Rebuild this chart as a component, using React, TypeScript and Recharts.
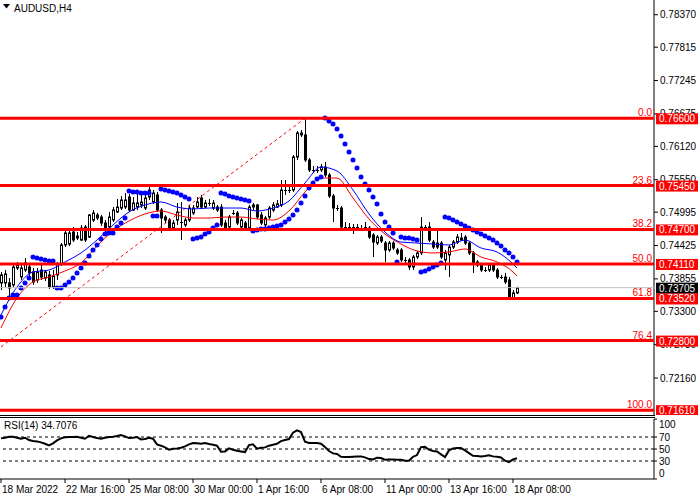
import React from "react";
import { Bar, ComposedChart, Line, ReferenceLine, Scatter, XAxis, YAxis } from "recharts";

// AUDUSD H4 candles, 18 Mar 2022 00:00 .. 18 Apr 2022 12:00
const opens = [
  0.73785, 0.73785, 0.73785, 0.73751, 0.74041, 0.73887, 0.74007, 0.74058, 0.73973, 0.73836,
  0.74007, 0.7387, 0.73922, 0.73716, 0.73922, 0.7411, 0.74434, 0.74451, 0.74656, 0.74587,
  0.74519, 0.74741, 0.7457, 0.74861, 0.74947, 0.74912, 0.7481, 0.74741, 0.74861, 0.74998,
  0.75066, 0.75083, 0.75254, 0.75032, 0.75083, 0.75118, 0.75066, 0.75254, 0.75169, 0.75289,
  0.75032, 0.74912, 0.74861, 0.74724, 0.74861, 0.74827, 0.74776, 0.74861, 0.74981, 0.75083,
  0.75237, 0.75083, 0.75152, 0.75066, 0.75083, 0.75083, 0.7481, 0.74741, 0.74981, 0.74981,
  0.74741, 0.7481, 0.74724, 0.75083, 0.75118, 0.74947, 0.74776, 0.74912, 0.75032, 0.75083,
  0.75118, 0.75374, 0.75374, 0.75374, 0.75938, 0.76349, 0.76315, 0.75887, 0.75716, 0.75716,
  0.75716, 0.75767, 0.75631, 0.75271, 0.75066, 0.75066, 0.74741, 0.74741, 0.74741, 0.74724,
  0.74724, 0.74741, 0.74724, 0.74604, 0.74468, 0.7457, 0.74468, 0.74349, 0.74468, 0.74349,
  0.74349, 0.74178, 0.74178, 0.74058, 0.74229, 0.74298, 0.74741, 0.74741, 0.74485, 0.74468,
  0.74468, 0.74178, 0.74264, 0.74399, 0.74485, 0.74519, 0.7457, 0.74468, 0.74298, 0.74144,
  0.74093, 0.74007, 0.74007, 0.74093, 0.74007, 0.73887, 0.73887, 0.73836, 0.7353, 0.73614,
];
const highs = [
  0.73973, 0.74007, 0.7387, 0.7411, 0.74144, 0.74093, 0.74212, 0.74127, 0.74041, 0.74041,
  0.74093, 0.74007, 0.7399, 0.74007, 0.74144, 0.74468, 0.74673, 0.74707, 0.74741, 0.74656,
  0.74776, 0.74776, 0.74964, 0.75032, 0.74981, 0.74947, 0.74861, 0.74998, 0.75083, 0.7522,
  0.75271, 0.75323, 0.75306, 0.75254, 0.75323, 0.75289, 0.75289, 0.75425, 0.75374, 0.7534,
  0.75066, 0.74947, 0.74895, 0.74861, 0.75152, 0.75169, 0.74895, 0.75118, 0.75118, 0.75254,
  0.75289, 0.75203, 0.7522, 0.75203, 0.75118, 0.75135, 0.74861, 0.74947, 0.75032, 0.75015,
  0.74895, 0.74844, 0.75118, 0.75152, 0.75135, 0.74998, 0.74929, 0.751, 0.75169, 0.75203,
  0.75545, 0.75545, 0.75425, 0.75972, 0.76383, 0.764, 0.766, 0.75921, 0.75784, 0.75784,
  0.75819, 0.75853, 0.75665, 0.75306, 0.75118, 0.751, 0.74827, 0.7481, 0.74793, 0.74793,
  0.74776, 0.74827, 0.74758, 0.74639, 0.74604, 0.74604, 0.74502, 0.74502, 0.74502, 0.74383,
  0.74383, 0.74229, 0.74212, 0.74264, 0.74332, 0.74912, 0.74776, 0.74827, 0.74519, 0.74724,
  0.74502, 0.74349, 0.74434, 0.74519, 0.74622, 0.74639, 0.74604, 0.74502, 0.74332, 0.74178,
  0.74127, 0.74058, 0.74127, 0.74127, 0.74041, 0.73922, 0.73956, 0.73887, 0.73665, 0.7372,
];
const lows = [
  0.73665, 0.73716, 0.73528, 0.73716, 0.74007, 0.73836, 0.73973, 0.73904, 0.73751, 0.73785,
  0.73836, 0.73819, 0.73682, 0.73682, 0.73836, 0.74075, 0.74399, 0.74416, 0.74485, 0.74519,
  0.74502, 0.74485, 0.74553, 0.74827, 0.74861, 0.74758, 0.74656, 0.74707, 0.74827, 0.74981,
  0.75032, 0.75049, 0.74998, 0.75015, 0.75032, 0.75066, 0.75032, 0.75203, 0.75135, 0.74998,
  0.74639, 0.7481, 0.7469, 0.7469, 0.74776, 0.74519, 0.74741, 0.74827, 0.74947, 0.75066,
  0.75049, 0.75066, 0.751, 0.75032, 0.74998, 0.74741, 0.7469, 0.74707, 0.74947, 0.74776,
  0.74724, 0.74673, 0.7469, 0.75032, 0.74878, 0.74776, 0.74741, 0.74878, 0.74998, 0.75066,
  0.75083, 0.75289, 0.75323, 0.7534, 0.75887, 0.7628, 0.75853, 0.75682, 0.75665, 0.75665,
  0.75682, 0.75596, 0.75237, 0.74827, 0.75015, 0.74707, 0.7469, 0.74707, 0.74622, 0.7469,
  0.74673, 0.74707, 0.74536, 0.74229, 0.74434, 0.74468, 0.74144, 0.74315, 0.74349, 0.74264,
  0.74144, 0.74127, 0.74007, 0.74007, 0.74195, 0.74264, 0.7469, 0.74485, 0.74366, 0.74366,
  0.74195, 0.74007, 0.73887, 0.74366, 0.74451, 0.74502, 0.74434, 0.74264, 0.73956, 0.74058,
  0.73973, 0.73973, 0.73973, 0.73973, 0.73853, 0.73853, 0.73768, 0.7352, 0.7352, 0.73597,
];
const closes = [
  0.73922, 0.73939, 0.73699, 0.74058, 0.74093, 0.74041, 0.74127, 0.73956, 0.73802, 0.73973,
  0.73887, 0.73973, 0.73716, 0.73904, 0.7411, 0.74434, 0.74639, 0.74639, 0.74519, 0.74553,
  0.74724, 0.74519, 0.74947, 0.74981, 0.74895, 0.7481, 0.7469, 0.74912, 0.75032, 0.75083,
  0.75203, 0.75203, 0.75032, 0.75152, 0.75152, 0.75169, 0.75237, 0.75374, 0.75323, 0.75032,
  0.74895, 0.74861, 0.74724, 0.7481, 0.74998, 0.7481, 0.74861, 0.75066, 0.75066, 0.75169,
  0.75083, 0.75152, 0.7515, 0.75152, 0.75032, 0.74776, 0.74724, 0.74912, 0.74978, 0.7481,
  0.74861, 0.74724, 0.75083, 0.75118, 0.74912, 0.7481, 0.74895, 0.75066, 0.75118, 0.75135,
  0.75374, 0.7537, 0.75357, 0.75938, 0.76349, 0.76315, 0.75887, 0.75716, 0.75712, 0.7572,
  0.75767, 0.75631, 0.75271, 0.75066, 0.75049, 0.74741, 0.74738, 0.74745, 0.74724, 0.74741,
  0.74707, 0.74738, 0.7457, 0.74485, 0.7457, 0.74502, 0.74349, 0.74468, 0.74383, 0.74298,
  0.74178, 0.74175, 0.74058, 0.74229, 0.74298, 0.74741, 0.74724, 0.74519, 0.74399, 0.74399,
  0.74229, 0.74298, 0.74399, 0.74485, 0.7457, 0.74553, 0.74468, 0.74298, 0.74127, 0.74093,
  0.74007, 0.74003, 0.74093, 0.74007, 0.73887, 0.73884, 0.73802, 0.7353, 0.73614, 0.73705,
];

// Parabolic SAR, one dot per bar
const sar = [
  0.73203, 0.73374, 0.73528, 0.73579, 0.73579, 0.73699, 0.73785, 0.7387, 0.74229, 0.74212,
  0.74195, 0.74178, 0.74161, 0.74161, 0.73699, 0.73699, 0.73751, 0.73802, 0.7387, 0.73956,
  0.74041, 0.74127, 0.74246, 0.74349, 0.74434, 0.74536, 0.74622, 0.74639, 0.74639, 0.74741,
  0.7481, 0.74895, 0.75357, 0.7534, 0.7534, 0.75323, 0.75323, 0.75323, 0.74929, 0.74929,
  0.75391, 0.75374, 0.75357, 0.7534, 0.75323, 0.75289, 0.75254, 0.7522, 0.74536, 0.74553,
  0.7457, 0.74622, 0.74656, 0.74724, 0.74776, 0.75323, 0.75306, 0.75271, 0.75254, 0.75237,
  0.7522, 0.75203, 0.75186, 0.74673, 0.7469, 0.74707, 0.74707, 0.74724, 0.74741, 0.74758,
  0.74776, 0.74827, 0.74878, 0.74947, 0.75032, 0.75152, 0.75271, 0.75408, 0.75494, 0.75562,
  0.75596, 0.76605, 0.76554, 0.76503, 0.76417, 0.76298, 0.76161, 0.76024, 0.75887, 0.7575,
  0.75596, 0.75477, 0.75374, 0.75254, 0.75135, 0.74964, 0.74827, 0.74741, 0.74639, 0.74144,
  0.7457, 0.74553, 0.74553, 0.74536, 0.74519, 0.73973, 0.7399, 0.74024, 0.74058, 0.74093,
  0.74127, 0.74912, 0.74895, 0.74861, 0.74827, 0.74793, 0.74758, 0.74724, 0.7469, 0.74656,
  0.74622, 0.74588, 0.74553, 0.74519, 0.74468, 0.74416, 0.74349, 0.74298, 0.74229, 0.74144,
];

// moving averages read every 4th bar
const maIdx = [0, 4, 8, 12, 16, 20, 24, 28, 32, 36, 40, 44, 48, 52, 56, 60, 64, 68, 72, 76, 80, 84, 88, 92, 96, 100, 104, 108, 112, 116, 120, 124, 128, 129];
const maFast = [
  0.73238, 0.73716, 0.73973, 0.74007, 0.74144, 0.74298, 0.74519, 0.74776, 0.74998, 0.75118,
  0.75169, 0.75083, 0.75049, 0.75066, 0.75066, 0.75066, 0.75015, 0.75066, 0.75186, 0.75494,
  0.75767, 0.75699, 0.75374, 0.74964, 0.74656, 0.74485, 0.74468, 0.74451, 0.74434, 0.74519,
  0.74383, 0.74315, 0.7411, 0.74041,
];
const maSlow = [
  0.73015, 0.73528, 0.73802, 0.73887, 0.7399, 0.74127, 0.74416, 0.74673, 0.74844, 0.74964,
  0.75015, 0.74947, 0.74895, 0.74895, 0.74912, 0.74912, 0.74878, 0.74861, 0.75015, 0.7534,
  0.75579, 0.75579, 0.75237, 0.74878, 0.74622, 0.74451, 0.74332, 0.74298, 0.74315, 0.74366,
  0.74229, 0.74144, 0.73973, 0.73904,
];

// dashed fibo trend line
const fibLineIdx = [0, 76];
const fibLineVals = [0.72691, 0.766];

const fibPct = ["0.0", "23.6", "38.2", "50.0", "61.8", "76.4", "100.0"];
const fibPrices = [0.766, 0.7545, 0.747, 0.7411, 0.7352, 0.728, 0.7161];
const bidPrice = 0.73705;

const priceTicks = [0.7837, 0.77815, 0.77245, 0.76675, 0.7612, 0.7555, 0.74995, 0.74425, 0.73855, 0.733, 0.7273, 0.7216];

const rsi = [
  67.7, 68.8, 70.5, 70.5, 68.8, 67.1, 68.8, 64.9, 63.2, 62.7,
  61.0, 58.8, 56.0, 59.4, 64.4, 67.7, 69.4, 69.9, 69.9, 70.5,
  68.8, 67.1, 72.1, 69.9, 68.2, 67.1, 68.8, 69.9, 70.5, 71.6,
  73.2, 71.0, 68.2, 68.8, 69.9, 66.0, 66.6, 68.8, 67.1, 57.7,
  55.5, 52.7, 48.8, 50.5, 51.0, 52.1, 54.4, 57.7, 59.9, 59.4,
  58.8, 59.9, 58.2, 57.1, 55.5, 45.5, 46.0, 51.0, 48.8, 47.1,
  46.0, 44.9, 56.6, 57.7, 50.5, 52.1, 52.7, 55.5, 57.1, 58.8,
  63.2, 64.9, 66.6, 77.1, 81.0, 78.2, 62.1, 59.9, 59.9, 59.9,
  58.8, 53.2, 46.6, 42.7, 41.6, 37.1, 36.6, 36.6, 37.1, 37.7,
  37.7, 36.0, 33.2, 32.7, 35.5, 34.9, 32.1, 32.7, 32.7, 32.1,
  32.1, 30.5, 30.5, 37.1, 39.9, 53.2, 53.8, 48.8, 46.6, 46.0,
  41.0, 36.6, 47.7, 51.0, 51.6, 51.6, 47.7, 43.2, 38.8, 38.2,
  37.7, 38.2, 39.4, 37.7, 37.1, 36.0, 30.5, 28.2, 32.7, 34.7076,
];
const rsiLevels = [30, 50, 70];
const rsiTicks = [0, 30, 50, 70, 100];

const timeIdx = [0, 16, 32, 48, 64, 80, 96, 112, 128];
const timeLabels = ["18 Mar 2022", "22 Mar 16:00", "25 Mar 08:00", "30 Mar 00:00", "1 Apr 16:00", "6 Apr 08:00", "11 Apr 00:00", "13 Apr 16:00", "18 Apr 08:00"];

const FONT = "'Liberation Sans', Arial, sans-serif";
const X_DOMAIN: [number, number] = [-0.25, 163.25];
const Y_DOMAIN: [number, number] = [0.71528, 0.78622];

const rows = opens.map((o, i) => {
  const m = maIdx.indexOf(i);
  const f = fibLineIdx.indexOf(i);
  return {
    i,
    o,
    h: highs[i],
    l: lows[i],
    c: closes[i],
    range: [lows[i], highs[i]],
    sar: sar[i],
    fast: m >= 0 ? maFast[m] : null,
    slow: m >= 0 ? maSlow[m] : null,
    fib: f >= 0 ? fibLineVals[f] : null,
  };
});

const rsiRows = rsi.map((v, i) => ({ i, rsi: v }));

function Candle(props: any) {
  const { x, y, width, height, payload } = props;
  const { o, h, l, c } = payload;
  const top = Math.min(y, y + height);
  const hgt = Math.abs(height);
  const span = h - l || 1e-9;
  const py = (v: number) => top + ((h - v) / span) * hgt;
  const cx = Math.round(x + width / 2) + 0.5;
  const bTop = py(Math.max(o, c));
  const bBot = py(Math.min(o, c));
  const up = c >= o;
  return (
    <g>
      <line x1={cx} x2={cx} y1={top} y2={top + hgt} stroke="#000" strokeWidth={1} />
      {bBot - bTop < 1.2 ? (
        <line x1={cx - 1.5} x2={cx + 1.5} y1={Math.round(bTop) + 0.5} y2={Math.round(bTop) + 0.5} stroke="#000" />
      ) : (
        <rect x={cx - 1} y={bTop} width={2} height={bBot - bTop} fill={up ? "#fff" : "#000"} stroke="#000" strokeWidth={1} />
      )}
    </g>
  );
}

function SarDot(props: any) {
  const { cx, cy } = props;
  if (cx == null || cy == null) return null;
  return <circle cx={cx} cy={cy} r={2.5} fill="#0000ff" />;
}

function LevelTag(props: any) {
  const { viewBox, pct, price, bg } = props;
  if (!viewBox) return null;
  const y = viewBox.y;
  const right = viewBox.x + viewBox.width;
  return (
    <g>
      {pct ? (
        <text x={right - 2} y={y - 2} textAnchor="end" fill="#ff0000" fontSize={10} fontFamily={FONT}>
          {pct}
        </text>
      ) : null}
      <rect x={right + 2} y={y - 5} width={42} height={11} fill={bg} />
      <text x={right + 5} y={y + 4} fill="#fff" fontSize={10} fontFamily={FONT}>
        {price}
      </text>
    </g>
  );
}

function PriceTick(props: any) {
  const { x, y, payload } = props;
  return (
    <text x={x} y={y + 3.5} fontSize={10} fill="#000" fontFamily={FONT}>
      {Number(payload.value).toFixed(5)}
    </text>
  );
}

function RsiTick(props: any) {
  const { x, y, payload } = props;
  const v = payload.value;
  const dy = v === 100 ? 5 : v === 0 ? -6 : 0;
  return (
    <text x={x} y={y + dy + 3.5} fontSize={10} fill="#000" fontFamily={FONT}>
      {v}
    </text>
  );
}

function TimeTick(props: any) {
  const { x, y, payload } = props;
  const k = timeIdx.indexOf(payload.value);
  return (
    <text x={x + 1} y={y + 8} fontSize={10} fill="#000" fontFamily={FONT}>
      {k >= 0 ? timeLabels[k] : ""}
    </text>
  );
}

export default function App() {
  return (
    <div style={{ position: "absolute", left: 0, top: 0, width: 700, height: 500, background: "#fff", fontFamily: FONT, overflow: "hidden" }}>
      <div style={{ position: "absolute", left: 0, top: 0 }}>
        <ComposedChart width={700} height={415} data={rows} margin={{ top: 0, right: 0, bottom: 0, left: 0 }}>
          <XAxis dataKey="i" type="number" domain={X_DOMAIN} allowDataOverflow hide />
          <YAxis
            orientation="right"
            type="number"
            width={46}
            domain={Y_DOMAIN}
            allowDataOverflow
            ticks={priceTicks}
            interval={0}
            tickSize={4}
            axisLine={{ stroke: "#000" }}
            tickLine={{ stroke: "#000" }}
            tick={<PriceTick />}
          />
          <Line dataKey="fib" type="linear" stroke="#ff0000" strokeWidth={1} strokeDasharray="3 3" dot={false} connectNulls isAnimationActive={false} />
          <Bar dataKey="range" barSize={3} shape={<Candle />} isAnimationActive={false} />
          <Line dataKey="slow" type="monotone" stroke="#ff0000" strokeWidth={1} dot={false} connectNulls isAnimationActive={false} />
          <Line dataKey="fast" type="monotone" stroke="#0000ff" strokeWidth={1} dot={false} connectNulls isAnimationActive={false} />
          <Scatter dataKey="sar" fill="#0000ff" shape={<SarDot />} isAnimationActive={false} />
        </ComposedChart>
      </div>

      {/* level lines and price tags drawn over the candles and the axis labels */}
      <div style={{ position: "absolute", left: 0, top: 0 }}>
        <ComposedChart width={700} height={415} data={rows} margin={{ top: 0, right: 46, bottom: 0, left: 0 }}>
          <XAxis dataKey="i" type="number" domain={X_DOMAIN} allowDataOverflow hide />
          <YAxis type="number" domain={Y_DOMAIN} allowDataOverflow hide />
          <ReferenceLine y={bidPrice} stroke="#c0c0c0" strokeWidth={1} label={<LevelTag price={bidPrice.toFixed(5)} bg="#000" />} />
          {fibPrices.map((p, k) => (
            <ReferenceLine
              key={p}
              y={p}
              stroke="#ff0000"
              strokeWidth={3}
              label={<LevelTag pct={fibPct[k]} price={p.toFixed(5)} bg="#ff0000" />}
            />
          ))}
        </ComposedChart>
      </div>

      <div style={{ position: "absolute", left: 0, top: 415, width: 655, height: 1, background: "#000" }} />
      <div style={{ position: "absolute", left: 0, top: 417, width: 655, height: 1, background: "#000" }} />

      <div style={{ position: "absolute", left: 0, top: 417 }}>
        <ComposedChart width={700} height={83} data={rsiRows} margin={{ top: 2, right: 0, bottom: 0, left: 0 }}>
          <XAxis
            dataKey="i"
            type="number"
            domain={X_DOMAIN}
            allowDataOverflow
            ticks={timeIdx}
            interval={0}
            height={21}
            tickSize={4}
            axisLine={{ stroke: "#000" }}
            tickLine={{ stroke: "#000" }}
            tick={<TimeTick />}
          />
          <YAxis
            orientation="right"
            type="number"
            width={46}
            domain={[0, 100]}
            allowDataOverflow
            ticks={rsiTicks}
            interval={0}
            tickSize={3}
            axisLine={{ stroke: "#000" }}
            tickLine={{ stroke: "#000" }}
            tick={<RsiTick />}
          />
          {rsiLevels.map((v) => (
            <ReferenceLine key={v} y={v} stroke="#000" strokeWidth={1} strokeDasharray="3 3" />
          ))}
          <Line dataKey="rsi" type="linear" stroke="#000" strokeWidth={2} dot={false} isAnimationActive={false} />
        </ComposedChart>
      </div>

      <svg style={{ position: "absolute", left: 0, top: 0 }} width={80} height={16}>
        <polygon points="3,4 10,4 6.5,8.5" fill="#000" />
        <text x={14} y={12} fontSize={10} fill="#000" fontFamily={FONT}>
          AUDUSD,H4
        </text>
      </svg>
      <div style={{ position: "absolute", left: 4, top: 420, fontSize: 10, color: "#000", lineHeight: "12px" }}>RSI(14) 34.7076</div>
    </div>
  );
}
